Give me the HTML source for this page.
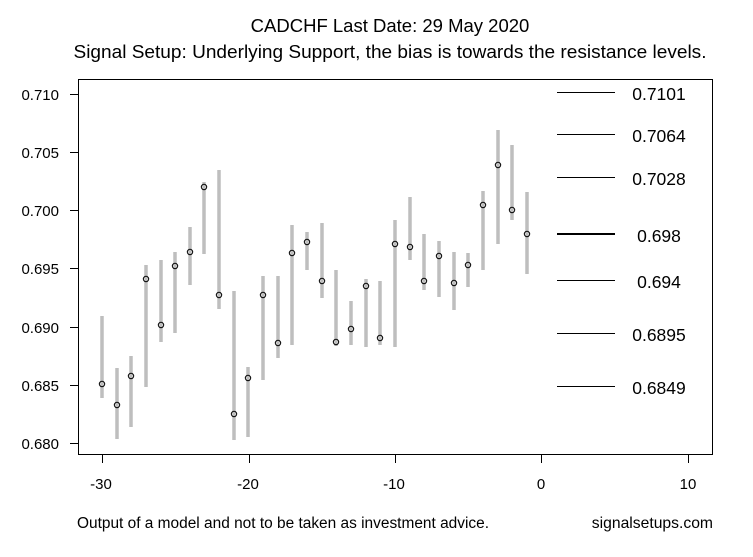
<!DOCTYPE html>
<html><head><style>body{margin:0;background:#fff}</style></head><body>
<svg width="753" height="552" xmlns="http://www.w3.org/2000/svg" font-family="Liberation Sans, Arial, sans-serif">
<rect width="753" height="552" fill="#fff"/>
<text x="390" y="32" font-size="18.5" text-anchor="middle">CADCHF Last Date: 29 May 2020</text>
<text x="390" y="58" font-size="18.8" text-anchor="middle" textLength="633" lengthAdjust="spacingAndGlyphs">Signal Setup: Underlying Support, the bias is towards the resistance levels.</text>
<rect x="78.5" y="79.5" width="634" height="375" fill="none" stroke="#000" stroke-width="1"/>
<g stroke="#000" stroke-width="1">
<line x1="70" y1="94.5" x2="78" y2="94.5"/><line x1="70" y1="152.5" x2="78" y2="152.5"/><line x1="70" y1="210.5" x2="78" y2="210.5"/><line x1="70" y1="268.5" x2="78" y2="268.5"/><line x1="70" y1="327.5" x2="78" y2="327.5"/><line x1="70" y1="385.5" x2="78" y2="385.5"/><line x1="70" y1="443.5" x2="78" y2="443.5"/>
<line x1="102.5" y1="455" x2="102.5" y2="463"/><line x1="249.5" y1="455" x2="249.5" y2="463"/><line x1="395.5" y1="455" x2="395.5" y2="463"/><line x1="541.5" y1="455" x2="541.5" y2="463"/><line x1="688.5" y1="455" x2="688.5" y2="463"/>
</g>
<g font-size="15" text-anchor="end">
<text x="59" y="100">0.710</text><text x="59" y="158">0.705</text><text x="59" y="216">0.700</text><text x="59" y="274">0.695</text><text x="59" y="333">0.690</text><text x="59" y="391">0.685</text><text x="59" y="449">0.680</text>
</g>
<g font-size="15" text-anchor="middle">
<text x="101" y="489">-30</text><text x="248" y="489">-20</text><text x="394" y="489">-10</text><text x="541" y="489">0</text><text x="688" y="489">10</text>
</g>
<text x="77" y="528" font-size="15.5" textLength="412" lengthAdjust="spacingAndGlyphs">Output of a model and not to be taken as investment advice.</text>
<text x="713" y="528" font-size="15.7" text-anchor="end">signalsetups.com</text>
<g stroke="#bebebe" stroke-width="3.5">
<line x1="102" y1="316" x2="102" y2="398"/><line x1="117" y1="368" x2="117" y2="439"/><line x1="131" y1="356" x2="131" y2="427"/><line x1="146" y1="265" x2="146" y2="387"/><line x1="161" y1="260" x2="161" y2="342"/><line x1="175" y1="252" x2="175" y2="333"/><line x1="190" y1="227" x2="190" y2="285"/><line x1="204" y1="182" x2="204" y2="254"/><line x1="219" y1="170" x2="219" y2="309"/><line x1="234" y1="291" x2="234" y2="440"/><line x1="248" y1="367" x2="248" y2="437"/><line x1="263" y1="276" x2="263" y2="380"/><line x1="278" y1="276" x2="278" y2="358"/><line x1="292" y1="225" x2="292" y2="345"/><line x1="307" y1="232" x2="307" y2="270"/><line x1="322" y1="223" x2="322" y2="298"/><line x1="336" y1="270" x2="336" y2="346"/><line x1="351" y1="301" x2="351" y2="345"/><line x1="366" y1="279" x2="366" y2="347"/><line x1="380" y1="281" x2="380" y2="345"/><line x1="395" y1="220" x2="395" y2="347"/><line x1="410" y1="197" x2="410" y2="260"/><line x1="424" y1="234" x2="424" y2="290"/><line x1="439" y1="241" x2="439" y2="297"/><line x1="454" y1="252" x2="454" y2="310"/><line x1="468" y1="253" x2="468" y2="287"/><line x1="483" y1="191" x2="483" y2="270"/><line x1="498" y1="130" x2="498" y2="244"/><line x1="512" y1="145" x2="512" y2="220"/><line x1="527" y1="192" x2="527" y2="274"/>
</g>
<g fill="none" stroke="#000" stroke-width="1">
<circle cx="102" cy="384" r="2.7"/><circle cx="117" cy="405" r="2.7"/><circle cx="131" cy="376" r="2.7"/><circle cx="146" cy="279" r="2.7"/><circle cx="161" cy="325" r="2.7"/><circle cx="175" cy="266" r="2.7"/><circle cx="190" cy="252" r="2.7"/><circle cx="204" cy="187" r="2.7"/><circle cx="219" cy="295" r="2.7"/><circle cx="234" cy="414" r="2.7"/><circle cx="248" cy="378" r="2.7"/><circle cx="263" cy="295" r="2.7"/><circle cx="278" cy="343" r="2.7"/><circle cx="292" cy="253" r="2.7"/><circle cx="307" cy="242" r="2.7"/><circle cx="322" cy="281" r="2.7"/><circle cx="336" cy="342" r="2.7"/><circle cx="351" cy="329" r="2.7"/><circle cx="366" cy="286" r="2.7"/><circle cx="380" cy="338" r="2.7"/><circle cx="395" cy="244" r="2.7"/><circle cx="410" cy="247" r="2.7"/><circle cx="424" cy="281" r="2.7"/><circle cx="439" cy="256" r="2.7"/><circle cx="454" cy="283" r="2.7"/><circle cx="468" cy="265" r="2.7"/><circle cx="483" cy="205" r="2.7"/><circle cx="498" cy="165" r="2.7"/><circle cx="512" cy="210" r="2.7"/><circle cx="527" cy="234" r="2.7"/>
</g>
<g stroke="#000" stroke-width="1">
<line x1="557" y1="92.5" x2="615" y2="92.5"/><line x1="557" y1="134.5" x2="615" y2="134.5"/><line x1="557" y1="177.5" x2="615" y2="177.5"/><line x1="557" y1="234" x2="615" y2="234" stroke-width="2"/><line x1="557" y1="280.5" x2="615" y2="280.5"/><line x1="557" y1="333.5" x2="615" y2="333.5"/><line x1="557" y1="386.5" x2="615" y2="386.5"/>
</g>
<g font-size="17.5" text-anchor="middle">
<text x="659" y="100">0.7101</text><text x="659" y="142">0.7064</text><text x="659" y="185">0.7028</text><text x="659" y="242">0.698</text><text x="659" y="288">0.694</text><text x="659" y="341">0.6895</text><text x="659" y="394">0.6849</text>
</g>
</svg>
</body></html>
